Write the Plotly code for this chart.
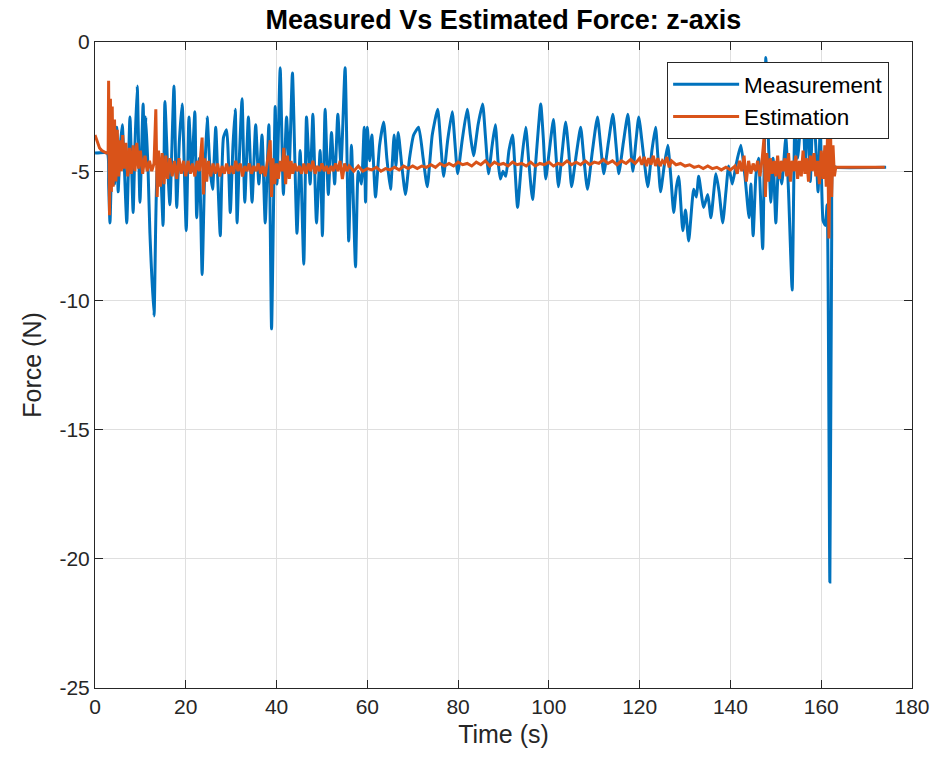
import plotly.graph_objects as go

# ---- Measurement (blue) ----
meas_t = [0, 2.7, 3.0, 3.3, 3.8, 4.3, 4.8, 5.1, 5.5, 6.0, 6.5, 7.0, 7.7, 8.4, 8.8, 9.3, 9.9, 10.6, 10.9, 11.2,
          11.7, 12.1, 13.0, 13.7, 14.3, 15.0, 15.4, 16.0, 16.5, 17.4, 18.0, 18.6, 19.2, 20.1, 20.7, 21.3, 22.0,
          22.4, 23.0, 23.6, 24.1, 24.7, 25.3, 25.9, 26.6, 27.1, 27.6, 28.3, 29.0, 29.8, 30.4, 30.9, 31.3, 31.8,
          32.4, 33.0, 33.8, 34.6, 35.4, 36.1, 36.8, 37.5, 38.3, 38.9, 39.7, 40.1, 40.8, 41.5, 42.2, 42.8, 43.5,
          44.5, 45.2, 46.0, 46.6, 47.4, 48.0, 48.8, 49.6, 50.1, 50.7, 51.4, 52.1, 52.8, 53.5, 54.2, 55.1, 55.9,
          56.5, 57.4, 58.0, 58.7, 59.3, 59.6,
          60.0, 60.5, 61.0, 61.8, 62.7, 63.6, 64.3, 65.1, 65.9, 66.3, 66.8, 67.6, 68.4, 69.3, 70.2, 71.3, 72.3,
          73.2, 74.3, 75.5, 76.2, 76.8, 77.7, 78.7, 79.3, 79.9, 80.9, 82.0, 82.7, 83.4, 84.4, 85.4, 86.0, 86.7,
          87.5, 88.2, 88.8, 89.3, 89.9, 90.5, 91.2, 92.0, 92.5, 93.1, 94.0, 94.9, 95.6, 96.4, 97.3, 98.2, 98.8,
          99.3, 100.1, 101.0, 101.5, 102.1, 102.9, 103.7, 104.4, 105.0, 106.0, 107.0, 107.7, 108.5, 109.6,
          110.7, 111.4, 112.1, 113.1, 114.1, 114.8, 115.4, 116.4, 117.4, 118.0, 118.5, 119.2, 119.8, 120.8,
          121.8, 122.7, 123.5, 124.0, 124.6, 125.4, 126.2, 126.9, 127.5, 128.1, 128.6, 129.5, 130.1, 130.8,
          131.9, 132.5, 133.0, 134.1, 135.0, 135.7, 136.8, 137.5, 138.3, 139.0, 139.6, 140.4, 141.3, 142.3,
          143.2, 144.1, 144.5, 145.0, 145.6, 146.2, 147.1, 147.8, 148.4, 148.9, 149.4, 150.0, 150.6, 151.3,
          152.2, 152.8, 153.6, 154.2, 154.8, 155.3, 155.9, 156.5, 157.1, 157.6, 158.2, 158.8, 159.3, 159.8,
          160.4, 160.9, 161.3, 161.9, 162.3, 162.6, 163.2, 174.3]
meas_f = [-4.3, -4.3, -5.5, -7.0, -4.0, -5.5, -3.3, -5.8, -4.2, -3.2, -5.0, -7.0, -2.9, -6.6, -4.0, -1.7, -6.2, -2.4, -4.5, -2.9,
          -5.0, -7.4, -10.6, -5.0, -4.6, -7.1, -2.3, -4.8, -6.3, -1.7, -6.4, -3.8, -2.4, -7.3, -2.9, -5.0, -2.7,
          -6.8, -4.5, -9.0, -5.5, -2.9, -4.8, -5.7, -3.3, -5.5, -7.5, -3.7, -3.4, -6.6, -4.0, -2.6, -7.0, -4.5,
          -2.2, -6.2, -2.9, -6.2, -3.2, -5.5, -3.6, -7.0, -3.2, -11.1, -2.5, -5.5, -1.0, -5.9, -2.9, -4.8, -1.2,
          -7.4, -4.2, -8.6, -2.9, -5.5, -2.8, -7.0, -4.2, -7.5, -2.6, -5.9, -3.5, -5.5, -2.8, -4.8, -1.0, -7.7,
          -4.0, -8.7, -5.0, -5.5, -3.3, -6.2,
          -3.3, -4.6, -3.6, -6.0, -4.0, -3.1, -4.5, -5.7, -3.6, -4.8, -3.5, -4.8, -5.9, -4.5, -3.6, -3.3, -4.5,
          -5.6, -3.6, -2.6, -4.0, -5.2, -3.8, -2.7, -3.9, -5.1, -3.8, -2.6, -3.6, -4.4, -3.2, -2.4, -3.6, -5.1,
          -4.0, -3.2, -4.6, -5.3, -5.0, -5.2, -4.2, -3.6, -4.8, -6.4, -4.6, -3.3, -4.7, -6.1, -4.2, -2.4, -3.8,
          -5.3, -4.2, -3.0, -4.2, -5.6, -4.3, -3.1, -4.3, -5.6, -4.4, -3.3, -4.5, -5.7, -4.2,
          -2.9, -4.0, -5.1, -3.9, -2.8, -4.0, -5.1, -3.9, -2.8, -4.0, -5.0, -3.8, -2.9, -4.3,
          -5.6, -4.2, -3.3, -4.4, -5.8, -4.8, -4.0, -5.3, -6.6, -5.6, -5.2, -7.3, -6.5, -7.7,
          -5.7, -6.0, -5.2, -6.4, -5.9, -6.8, -5.1, -5.8, -7.0, -5.8, -4.8, -5.5, -4.7, -4.0,
          -5.2, -6.8, -5.5, -7.5, -5.2, -4.5, -8.0, -0.6, -4.0, -6.2, -4.5, -7.0, -4.8, -5.5,
          -3.7, -5.8, -9.6, -3.2, -4.5, -3.5, -2.3, -4.8, -2.6, -5.4, -2.5, -4.0, -5.8, -3.2,
          -6.9, -7.1, -6.3, -20.9, -7.8, -4.8, -4.85, -4.85]

# ---- Estimation (orange) ----
est_t = [0, 0.5, 1.0, 1.5, 2.5, 2.9, 3.0, 3.2, 3.4, 3.6, 3.8, 4.0, 4.3, 4.6, 4.9, 5.2, 5.5, 5.8, 6.1, 6.4, 6.8,
         7.2, 7.6, 8.0, 8.4, 8.8, 9.2, 9.6, 10.0, 10.5, 11.0, 11.5, 12.0, 12.5, 13.0, 13.4, 13.7, 14.0, 14.4,
         14.8, 15.2, 15.6, 16.0, 16.5, 17.0, 17.5, 18.0, 18.5, 19.0, 19.5, 20.0, 20.5, 21.0, 21.5, 22.0, 22.5,
         23.0, 23.6, 23.9, 24.2, 24.6, 25.0, 25.5, 26.0, 26.5, 27.0, 27.5, 28.0, 28.5, 29.0, 29.5, 30.0, 30.5,
         31.0, 31.5, 32.0, 32.5, 33.0, 33.5, 34.0, 34.5, 35.0, 35.5, 36.0, 36.5, 37.0, 37.5, 38.0, 38.6, 38.9,
         39.2, 39.6, 40.0, 40.4, 40.8, 41.2, 41.6, 42.0, 42.4, 42.8, 43.2, 43.6, 44.0, 44.5, 45.0, 45.5, 46.0,
         46.5, 47.0, 47.5, 48.0, 48.5, 49.0, 49.5, 50.0, 50.5, 51.0, 51.5, 52.0, 52.5, 53.0, 53.5, 54.0, 54.5,
         55.0, 55.5, 56.0, 57.0, 58.0, 59.0, 60.0, 61, 62, 63, 64, 65, 66, 67, 68, 69, 70, 71, 72, 73, 74, 75,
         76, 77, 78, 79, 80, 81, 82, 83, 84, 85, 86, 87, 88, 89, 90, 91, 92, 93, 94, 95, 96, 97, 98, 99, 100,
         101, 102, 103, 104, 105, 106, 107, 108, 109, 110, 111, 112, 113, 114, 115, 116, 117, 118, 119, 120,
         120.5, 121, 121.5, 122, 122.5, 123, 123.5, 124, 124.5, 125, 125.5, 126, 126.5, 127, 128, 129, 130,
         131, 132, 133, 134, 135, 136, 137, 138, 139, 140, 141, 141.5, 142, 142.5, 143, 143.5, 144, 144.5,
         145, 145.5, 146, 146.5, 147, 147.4, 147.7, 148.0, 148.4, 148.8, 149.2, 149.6, 150.0, 150.4, 150.8,
         151.2, 151.6, 152.0, 152.4, 152.8, 153.2, 153.6, 154.0, 154.4, 154.8, 155.2, 155.6, 156.0, 156.4,
         156.8, 157.2, 157.6, 158.0, 158.4, 158.8, 159.2, 159.6, 160.0, 160.4, 160.8, 161.1, 161.4, 161.7,
         162.0, 162.3, 162.6, 162.9, 163.2, 174.0]
est_f = [-3.6, -3.9, -4.1, -4.2, -4.3, -4.3, -1.5, -6.7, -2.2, -5.8, -2.5, -5.6, -3.0, -5.4, -3.4, -5.2, -3.8, -5.0, -3.6, -4.9, -3.9,
         -5.2, -4.1, -5.1, -4.0, -5.0, -3.9, -4.9, -4.2, -5.1, -4.4, -5.0, -4.6, -5.0, -4.7, -2.6, -6.0, -4.2, -5.6,
         -4.3, -5.5, -4.4, -5.3, -4.5, -5.2, -4.6, -5.3, -4.5, -5.1, -4.6, -5.2, -4.6, -5.1, -4.7, -5.2, -4.6,
         -5.0, -3.7, -5.9, -4.5, -5.4, -4.6, -5.2, -4.7, -5.1, -4.7, -5.2, -4.8, -5.1, -4.7, -5.1, -4.8, -5.1,
         -4.6, -5.0, -4.7, -5.2, -4.8, -5.0, -4.7, -5.1, -4.8, -5.0, -4.7, -5.1, -4.8, -5.2, -4.6, -3.8, -6.0,
         -4.5, -5.5, -4.7, -5.3, -4.6, -5.0, -4.1, -5.5, -4.4, -5.3, -4.6, -5.1, -4.7, -5.0, -4.8, -5.1, -4.7,
         -5.1, -4.7, -5.0, -4.6, -5.1, -4.8, -5.0, -4.7, -5.0, -4.8, -5.1, -4.8, -5.0, -4.7, -5.0, -4.6, -5.3,
         -4.7, -5.0, -4.8, -5.0, -4.8, -5.0, -4.9, -4.95, -4.85, -5.0, -4.9, -4.95, -4.85, -4.95, -4.8, -4.9, -4.8, -4.9, -4.8, -4.85, -4.75, -4.85,
         -4.7, -4.8, -4.7, -4.8, -4.65, -4.75, -4.7, -4.8, -4.65, -4.75, -4.6, -4.8, -4.65, -4.75, -4.7, -4.8, -4.65, -4.75, -4.7, -4.8, -4.65, -4.8, -4.7, -4.75, -4.65,
         -4.8, -4.7, -4.75, -4.6, -4.75, -4.65, -4.75, -4.6, -4.75, -4.65, -4.7, -4.55, -4.7, -4.6, -4.75, -4.6, -4.7, -4.55, -4.7, -4.5,
         -4.75, -4.45, -4.8, -4.5, -4.75, -4.4, -4.8, -4.5, -4.8, -4.6, -4.7, -4.45, -4.85, -4.6, -4.75, -4.7, -4.8,
         -4.75, -4.85, -4.8, -4.9, -4.8, -4.9, -4.85, -4.95, -4.85, -4.95, -4.8, -5.1, -4.6, -5.0, -4.4, -5.4, -4.6, -5.1,
         -4.7, -5.0, -4.6, -5.2, -4.5, -3.7, -6.0, -4.3, -5.4, -4.5, -5.1, -4.6, -5.2, -4.4, -5.3,
         -4.6, -5.0, -4.5, -5.2, -4.3, -5.4, -4.6, -5.0, -4.4, -5.3, -4.6, -5.2, -4.2, -5.1,
         -4.5, -5.4, -4.4, -5.0, -4.3, -5.2, -4.6, -5.5, -4.2, -5.3, -4.0, -5.6, -3.5, -7.6,
         -2.9, -6.0, -4.0, -5.2, -4.85, -4.85]

x_ticks = [0, 20, 40, 60, 80, 100, 120, 140, 160, 180]
x_labels = ["0", "20", "40", "60", "80", "100", "120", "140", "160", "180"]
y_ticks = [0, -5, -10, -15, -20, -25]
y_labels = ["0", "-5", "-10", "-15", "-20", "-25"]

FONT = "Liberation Sans, Arial, sans-serif"
AX = "#262626"

fig = go.Figure()
fig.add_trace(go.Scatter(x=meas_t, y=meas_f, mode="lines", name="Measurement",
                         line=dict(color="#0072BD", width=3, shape="spline", smoothing=0.5)))
fig.add_trace(go.Scatter(x=est_t, y=est_f, mode="lines", name="Estimation",
                         line=dict(color="#D95319", width=3)))

axis_common = dict(showline=True, linecolor=AX, linewidth=1, mirror="ticks",
                   ticks="inside", ticklen=8, tickcolor=AX, tickwidth=1,
                   showgrid=True, gridcolor="#dfdfdf", gridwidth=1, zeroline=False,
                   automargin=False,
                   tickfont=dict(family=FONT, size=21, color=AX))

fig.update_layout(
    width=934, height=771,
    margin=dict(l=95, r=22, t=42, b=83),
    paper_bgcolor="white", plot_bgcolor="white",
    title=dict(text="<b>Measured Vs Estimated Force: z-axis</b>", x=0.539, xanchor="center",
               y=0.987, yanchor="top", font=dict(family=FONT, size=27, color="black")),
    xaxis=dict(range=[0, 180], tickvals=x_ticks, ticktext=x_labels,
               title=dict(text="Time (s)", font=dict(family=FONT, size=25, color=AX), standoff=8),
               **axis_common),
    yaxis=dict(range=[-25, 0], tickvals=y_ticks, ticktext=y_labels,
               title=dict(text="Force (N)", font=dict(family=FONT, size=25, color=AX), standoff=10),
               **axis_common),
    legend=dict(x=0.972, xanchor="right", y=0.969, yanchor="top",
                bgcolor="white", bordercolor="#262626", borderwidth=1,
                font=dict(family=FONT, size=22.5, color="black"),
                itemwidth=66, tracegroupgap=0),
    showlegend=True,
)

fig.write_html("out.html")
